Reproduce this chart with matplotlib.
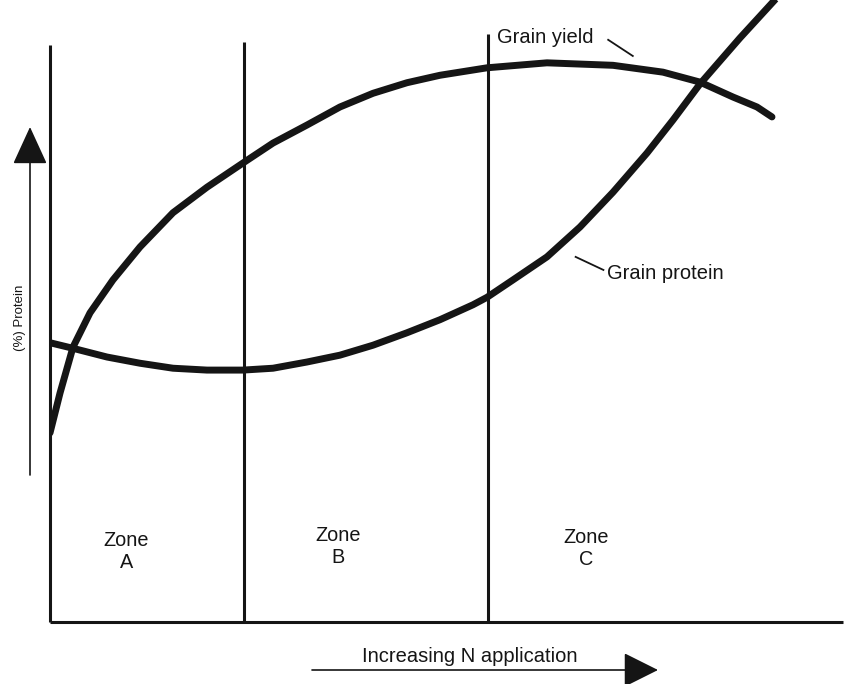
import matplotlib
matplotlib.use("Agg")
import matplotlib.pyplot as plt

plt.rcParams['font.family'] = ['Liberation Sans', 'DejaVu Sans']

# relative N rate (0-100) and relative response (0-100)
n_yield = [0.0, 1.26, 2.90, 5.04, 7.93, 11.34, 15.49, 19.77, 24.31, 28.09,
           32.37, 36.52, 40.68, 44.96, 49.12, 55.04, 62.59, 70.91, 77.20,
           81.86, 86.02, 89.04, 90.93]
grain_yield = [30.4, 36.8, 44.2, 49.7, 55.0, 60.3, 65.8, 69.9, 73.8, 77.0,
               79.9, 82.8, 85.0, 86.7, 87.9, 89.1, 89.9, 89.5, 88.4, 86.8,
               84.4, 82.8, 81.2]

n_protein = [0.0, 2.90, 7.18, 11.34, 15.49, 19.77, 24.31, 28.09, 32.37, 36.52,
             40.68, 44.96, 49.12, 53.27, 55.04, 58.31, 62.59, 66.75, 70.91,
             75.19, 78.46, 81.86, 86.90, 92.0]
grain_protein = [44.9, 44.0, 42.6, 41.6, 40.8, 40.5, 40.5, 40.8, 41.8, 42.9,
                 44.5, 46.5, 48.6, 51.0, 52.2, 55.0, 58.7, 63.5, 69.1, 75.4,
                 80.7, 86.5, 93.9, 101.0]

zone_edges = [0.0, 24.4, 55.2]
zone_tops = [92.8, 93.2, 94.5]
zone_labels = ["Zone\nA", "Zone\nB", "Zone\nC"]
zone_centres = [9.6, 36.3, 67.5]
zone_heights = [11.3, 12.1, 11.8]

INK = "#151515"

fig = plt.figure(figsize=(8.44, 6.84), dpi=100)
fig.patch.set_facecolor("white")
ax = fig.add_axes([50 / 844, 62 / 684, 794 / 844, 622 / 684])
ax.set_xlim(0, 100)
ax.set_ylim(0, 100)
ax.axis("off")

# zone boundaries and base line
for x, top in zip(zone_edges, zone_tops):
    ax.plot([x, x], [0, top], color=INK, lw=2.2, solid_capstyle="butt",
            clip_on=False)
ax.plot([0, 99.9], [0, 0], color=INK, lw=2.2, solid_capstyle="butt",
        clip_on=False)

# curves
ax.plot(n_yield, grain_yield, color=INK, lw=5, solid_capstyle="round",
        solid_joinstyle="round")
ax.plot(n_protein, grain_protein, color=INK, lw=5, solid_capstyle="butt",
        solid_joinstyle="round")

# labels
for xc, yc, lab in zip(zone_centres, zone_heights, zone_labels):
    ax.text(xc, yc, lab, ha="center", va="center", fontsize=14.3,
            linespacing=1.2, color=INK)

ax.text(56.3, 93.9, "Grain yield", ha="left", va="center", fontsize=14.5,
        color=INK)
ax.plot([70.3, 73.4], [93.6, 91.0], color=INK, lw=1.3)
ax.text(70.2, 56.0, "Grain protein", ha="left", va="center", fontsize=14.5,
        color=INK)
ax.plot([66.2, 69.7], [58.7, 56.6], color=INK, lw=1.3)

# outside arrows
ax.annotate("", xy=(30 / 844, 1 - 127 / 684), xytext=(30 / 844, 1 - 475 / 684),
            xycoords="figure fraction", textcoords="figure fraction",
            arrowprops=dict(arrowstyle="-|>,head_length=1.2,head_width=0.55",
                            mutation_scale=20, color=INK, lw=1.2,
                            shrinkA=0, shrinkB=0))
fig.text(20 / 844, 1 - 318 / 684, "(%) Protein", rotation=90, ha="center",
         va="center", fontsize=9.5, color=INK)

ax.annotate("", xy=(658 / 844, 1 - 670 / 684), xytext=(312 / 844, 1 - 670 / 684),
            xycoords="figure fraction", textcoords="figure fraction",
            arrowprops=dict(arrowstyle="-|>,head_length=1.1,head_width=0.55",
                            mutation_scale=20, color=INK, lw=1.2,
                            shrinkA=0, shrinkB=0))
fig.text(470 / 844, 1 - 657 / 684, "Increasing N application", ha="center",
         va="center", fontsize=14.5, color=INK)

fig.savefig("out.png", dpi=100, facecolor="white")
